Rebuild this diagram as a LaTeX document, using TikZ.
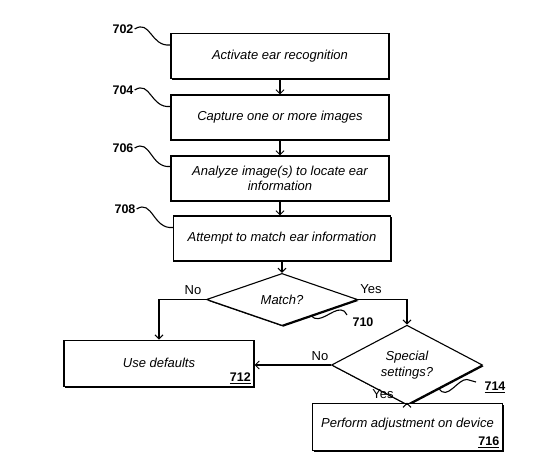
\documentclass[tikz,border=0pt]{standalone}
\usepackage{fontspec}
\setmainfont{Liberation Sans}
\usetikzlibrary{arrows.meta,shapes.geometric,shadows,calc}
\begin{document}
\begin{tikzpicture}[x=1pt,y=-1pt,
  shad/.style={drop shadow={shadow xshift=1.3pt,shadow yshift=-1.3pt,opacity=1,fill=black}},
  stepbox/.style={draw,line width=1.1pt,fill=white,shad,minimum width=218pt,minimum height=45pt,
    inner sep=2pt,align=center,font=\fontsize{13}{14.5}\selectfont\itshape},
  decision/.style={draw,diamond,line width=1.1pt,fill=white,shad,inner sep=0pt,align=center,
    font=\fontsize{13}{15.5}\selectfont\itshape},
  refnum/.style={font=\fontsize{12.5}{14}\selectfont\bfseries,inner sep=1pt},
  lbl/.style={font=\fontsize{13}{15}\selectfont,inner sep=1pt},
  conn/.style={line width=1.2pt,-{Straight Barb[length=4pt,width=8pt,line width=1pt]}},
  sq/.style={line width=1.1pt}]
\useasboundingbox[fill=white] (0,0) rectangle (550,467);

\node[stepbox] (b702) at (280,56) {Activate ear recognition};
\node[stepbox] (b704) at (280,117.5) {Capture one or more images};
\node[stepbox] (b706) at (280,178.5) {Analyze image(s) to locate ear\\information};
\node[stepbox,minimum width=217pt] (b708) at (282,238.5) {Attempt to match ear information};

\node[decision,minimum width=151pt,minimum height=49pt] (d710) at (282,299.5) {Match?};
\node[stepbox,minimum width=190pt,minimum height=46.5pt] (b712) at (159,363.3) {Use defaults};
\node[decision,minimum width=151pt,minimum height=50pt] (d714) at (407,365) {Special\\settings?};
\node[stepbox,minimum width=190pt,minimum height=47.5pt] (b716) at (407.5,427) {\\[-2pt]Perform adjustment on device\\[-3pt]\mbox{}};

\node[refnum,anchor=south east] (r712) at ([shift={(-2.5pt,2.5pt)}]b712.south east) {\underline{712}};
\node[refnum,anchor=south east] (r716) at ([shift={(-2.5pt,2.5pt)}]b716.south east) {\underline{716}};

% reference numerals
\node[refnum] (r702) at (123,29) {702};
\node[refnum] (r704) at (123,90) {704};
\node[refnum] (r706) at (123,148) {706};
\node[refnum] (r708) at (125,209) {708};
\node[refnum] (r710) at (363,322) {710};
\node[refnum] (r714) at (495,387) {\underline{714}};

\draw[sq] (r702.east) .. controls +(16,-10) and +(-20,2) .. ([yshift=11pt]b702.west);
\draw[sq] (r704.east) .. controls +(16,-10) and +(-20,2) .. ([yshift=11pt]b704.west);
\draw[sq] (r706.east) .. controls +(16,-10) and +(-20,2) .. ([yshift=12pt]b706.west);
\draw[sq] (r708.east) .. controls +(16,-10) and +(-20,2) .. ([yshift=11pt]b708.west);
\coordinate (s710) at ($(d710.south)!0.385!(d710.east)$);
\coordinate (e710) at (347,315);
\draw[sq] (s710) .. controls +(8,9) and +(-9,-1) .. (341,310) .. controls +(3,0.5) .. (e710);
\coordinate (s714) at ($(d714.south)!0.42!(d714.east)$);
\coordinate (e714) at (476,382);
\draw[sq] (s714) .. controls +(8,13) and +(-9,-1) .. (467,379.5) .. controls +(4,0.5) .. (e714);

% connectors
\draw[conn] (b702) -- (b704);
\draw[conn] (b704) -- (b706);
\draw[conn] (b706.south) -- (b706.south |- b708.north);
\draw[conn] (b708) -- (d710);
\draw[conn] (d710.west) -| (b712.north);
\draw[conn] (d710.east) -| (d714.north);
\draw[conn] (d714.west) -- (d714.west -| b712.east);
\draw[conn] (d714.south) -- (d714.south |- b716.north);

\node[lbl] (lno1) at (193,290) {No};
\node[lbl] (lyes1) at (371,289) {Yes};
\node[lbl] (lno2) at (320,356.5) {No};
\node[lbl] (lyes2) at (383,394) {Yes};
\end{tikzpicture}
\end{document}
